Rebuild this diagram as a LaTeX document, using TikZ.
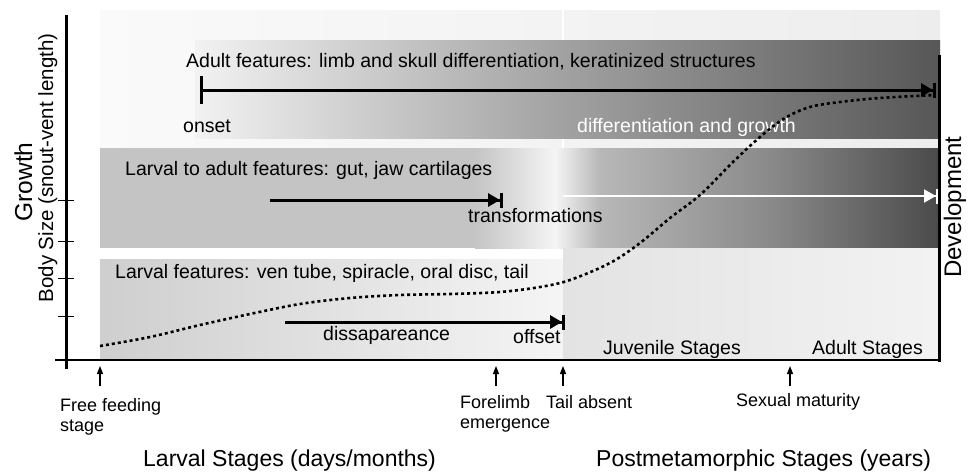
\documentclass[tikz,border=0pt]{standalone}
\usepackage{fontspec}
\setmainfont{Liberation Sans}
\usetikzlibrary{arrows.meta}

\definecolor{bandmid}{HTML}{C4C4C4}

\begin{document}
\begin{tikzpicture}[x=1pt,y=-1pt,
    lbl/.style={font=\fontsize{19.5}{22}\selectfont, inner sep=0pt},
    small/.style={font=\fontsize{18}{20}\selectfont, inner sep=0pt, align=left},
    big/.style={font=\fontsize{23}{26}\selectfont, inner sep=0pt},
    span/.style={line width=3pt, -{Triangle[length=12pt,width=13pt]Bar[width=15pt]}},
    pointer/.style={line width=1.2pt, -{Triangle[length=8pt,width=6pt]}},
    growthcurve/.style={line width=2.6pt, dash pattern=on 3pt off 3pt}]
\useasboundingbox (0,0) rectangle (968,472);

\shade[left color=black!2, right color=black!7] (100,10) rectangle (940,148);
\draw[white, line width=2pt] (563,10) -- (563,148);
\shade[left color=black!5, right color=black!66, middle color=black!37] (195,40) rectangle (940,138);
\fill[bandmid] (100,148) rectangle (475,248);
\shade[left color=bandmid, right color=black!4] (475,148) rectangle (555,248);
\shade[left color=black!4, right color=black!28] (555,148) rectangle (600,248);
\shade[left color=black!28, right color=black!71, middle color=black!46] (600,148) rectangle (940,248);
\shade[left color=black!19, right color=black!4] (100,259) rectangle (563,360);
\shade[left color=black!11, right color=black!5] (563,248) rectangle (940,360);

\draw[line width=3pt] (66,15) -- (66,369);
\draw[line width=1.5pt] (55,360) -- (938,360);
\draw[line width=3pt] (939,55) -- (939,362);
\foreach \ty in {200,241,278,316}
    \draw[line width=1pt] (58,\ty) -- (74,\ty);

\node[lbl, anchor=base west] (adultlbl) at (186,67) {Adult features: limb and skull differentiation, keratinized structures};
\node[lbl, anchor=base west] (onset) at (183,132) {onset};
\node[lbl, anchor=base west, text=white] (diffgrowth) at (577,132) {differentiation and growth};
\node[lbl, anchor=base west] (ltalbl) at (125,175) {Larval to adult features: gut, jaw cartilages};
\node[lbl, anchor=base west] (transf) at (468,222) {transformations};
\node[lbl, anchor=base west] (larvlbl) at (115,278) {Larval features: ven tube, spiracle, oral disc, tail};
\node[lbl, anchor=base west] (disapp) at (323,340) {dissapareance};
\node[lbl, anchor=base west] (offset) at (513,343) {offset};
\node[lbl, anchor=base west] (juvenile) at (603,354) {Juvenile Stages};
\node[lbl, anchor=base west] (adultst) at (812,354) {Adult Stages};

\coordinate (adultA) at (200,90);
\coordinate (adultB) at (936,90);
\coordinate (ltaA) at (270,200);
\coordinate (ltaB) at (503,200);
\coordinate (metaA) at (563,196);
\coordinate (metaB) at (938,196);
\coordinate (larvA) at (285,322);
\coordinate (larvB) at (565,322);
\draw[span, {Bar[width=28pt]}-{Triangle[length=12pt,width=13pt]Bar[width=15pt]}] (adultA) -- (adultB);
\draw[span] (ltaA) -- (ltaB);
\draw[span, white, line width=2pt] (metaA) -- (metaB);
\draw[span] (larvA) -- (larvB);

\draw[growthcurve] plot[smooth, tension=0.55] coordinates {(100,346) (150,337) (200,325) (250,314) (300,304) (350,298) (400,295) (450,294) (500,292) (540,287) (570,280) (610,263) (640,243) (670,218) (700,195) (733,162) (760,137) (785,118) (810,107) (840,102) (880,98) (935,95)};

\foreach \px/\pn in {100/ff, 496/fl, 563/ta, 790/sm} {
    \coordinate (\pn top) at (\px,366);
    \coordinate (\pn bot) at (\px,386);
    \draw[pointer] (\pn bot) -- (\pn top);
}
\node[small, anchor=north west] (freefeed) at (60,398) {Free feeding\\stage};
\node[small, anchor=north west] (forelimb) at (460,395) {Forelimb\\emergence};
\node[small, anchor=north west] (tailabs) at (546,395) {Tail absent};
\node[small, anchor=north west] (sexmat) at (736,393) {Sexual maturity};

\node[big, anchor=base west] (larvst) at (143,466) {Larval Stages (days/months)};
\node[big, anchor=base west] (postst) at (596,466) {Postmetamorphic Stages (years)};

\node[inner sep=0pt, font=\fontsize{24.5}{26}\selectfont, rotate=90, anchor=base] (growth) at (32,182) {Growth};
\node[inner sep=0pt, font=\fontsize{20.5}{23}\selectfont, rotate=90, anchor=base] (bodysize) at (53,168) {Body Size (snout-vent length)};
\node[inner sep=0pt, font=\fontsize{24}{26}\selectfont, rotate=90, anchor=base] (develop) at (961,207) {Development};
\end{tikzpicture}
\end{document}
